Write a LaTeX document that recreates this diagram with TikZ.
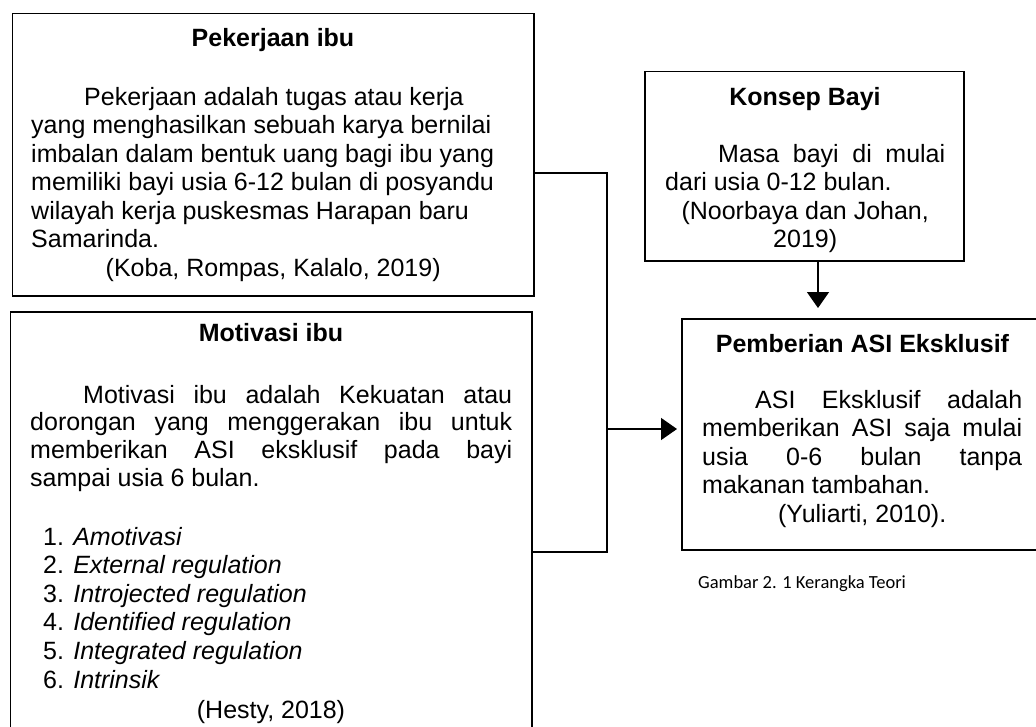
\documentclass[tikz,border=0pt]{standalone}
\usepackage{fontspec}
\setmainfont{Liberation Sans}
\newfontfamily\capfont{Carlito}
\usetikzlibrary{arrows.meta}
\newcommand\bodyfont{\fontsize{25}{28.5}\selectfont}
\newcommand\mypar[2]{\parbox[t]{#1}{\bodyfont #2}}
\begin{document}
\begin{tikzpicture}[x=1pt,y=-1pt,
  box/.style={draw, line width=1.3pt, inner sep=0pt, outer sep=0pt},
  ttl/.style={anchor=base, inner sep=0pt, font=\bodyfont\bfseries},
  txt/.style={anchor=base west, inner sep=0pt},
  conn/.style={line width=1.3pt},
  arr/.style={line width=1.5pt, -{Triangle[width=22pt,length=16pt]}}]
\useasboundingbox (0,0) rectangle (1036,726);
\clip (0,0) rectangle (1036,726);
% boxes
\node[box, minimum width=521.5pt, minimum height=282.7pt] (b1) at (273.25,154.65) {};
\node[box, minimum width=521.5pt, minimum height=440pt] (b2) at (271.25,532) {};
\node[box, minimum width=319pt, minimum height=189.3pt] (b3) at (804.5,166.35) {};
\node[box, minimum width=361pt, minimum height=231pt] (b4) at (862.5,434.5) {};
% box 1
\node[ttl] (t1) at (273,46) {Pekerjaan ibu};
\node[txt] (p1) at (31,105) {\mypar{484pt}{\raggedright\hspace*{53pt}Pekerjaan adalah tugas atau kerja\\
yang menghasilkan sebuah karya bernilai\\
imbalan dalam bentuk uang bagi ibu yang\\
memiliki bayi usia 6-12 bulan di posyandu\\
wilayah kerja puskesmas Harapan baru\\
Samarinda.\par
\centering (Koba, Rompas, Kalalo, 2019)\par}};
% box 2
\node[ttl] (t2) at (271,341) {Motivasi ibu};
\node[txt] (p2) at (30,403) {\mypar{482pt}{\fontsize{25}{27.8}\selectfont\hspace*{53pt}Motivasi ibu adalah Kekuatan atau\linebreak
dorongan yang menggerakan ibu untuk\linebreak
memberikan ASI eksklusif pada bayi\linebreak
sampai usia 6 bulan.}};
\node[txt] (l2) at (43,545) {\mypar{460pt}{\fontsize{25}{28.6}\selectfont 1. \textit{Amotivasi}\\
2. \textit{External regulation}\\
3. \textit{Introjected regulation}\\
4. \textit{Identified regulation}\\
5. \textit{Integrated regulation}\\
6. \textit{Intrinsik}}};
\node[anchor=base, inner sep=0pt, font=\bodyfont] (c2) at (271,718) {(Hesty, 2018)};
% box 3
\node[ttl] (t3) at (805,105) {Konsep Bayi};
\node[txt] (p3) at (665,162) {\mypar{280pt}{\hspace*{53pt}Masa bayi di mulai\linebreak
dari usia 0-12 bulan.\par
\centering (Noorbaya dan Johan,\\ 2019)\par}};
% box 4
\node[ttl] (t4) at (862.5,352) {Pemberian ASI Eksklusif};
\node[txt] (p4) at (702,408) {\mypar{320pt}{\hspace*{53pt}ASI Eksklusif adalah\linebreak
memberikan ASI saja mulai\linebreak
usia 0-6 bulan tanpa\linebreak
makanan tambahan.\par
\centering (Yuliarti, 2010).\par}};
% caption
\node[anchor=base west, inner sep=0pt, font=\capfont\fontsize{18.5}{22}\selectfont] (cap) at (698,588) {Gambar 2. 1 Kerangka Teori};
% connectors
\coordinate (j1) at (607,173);
\coordinate (j2) at (607,552);
\coordinate (j3) at (607,429);
\coordinate (k) at (818,0);
\draw[conn] (b1.east |- j1) -- (j1) -- (j2) -- (b2.east |- j2);
\draw[arr, shorten >=5pt] (j3) -- (b4.west |- j3);
\draw[arr, shorten >=11pt] (b3.south -| k) -- (b4.north -| k);
\end{tikzpicture}
\end{document}
